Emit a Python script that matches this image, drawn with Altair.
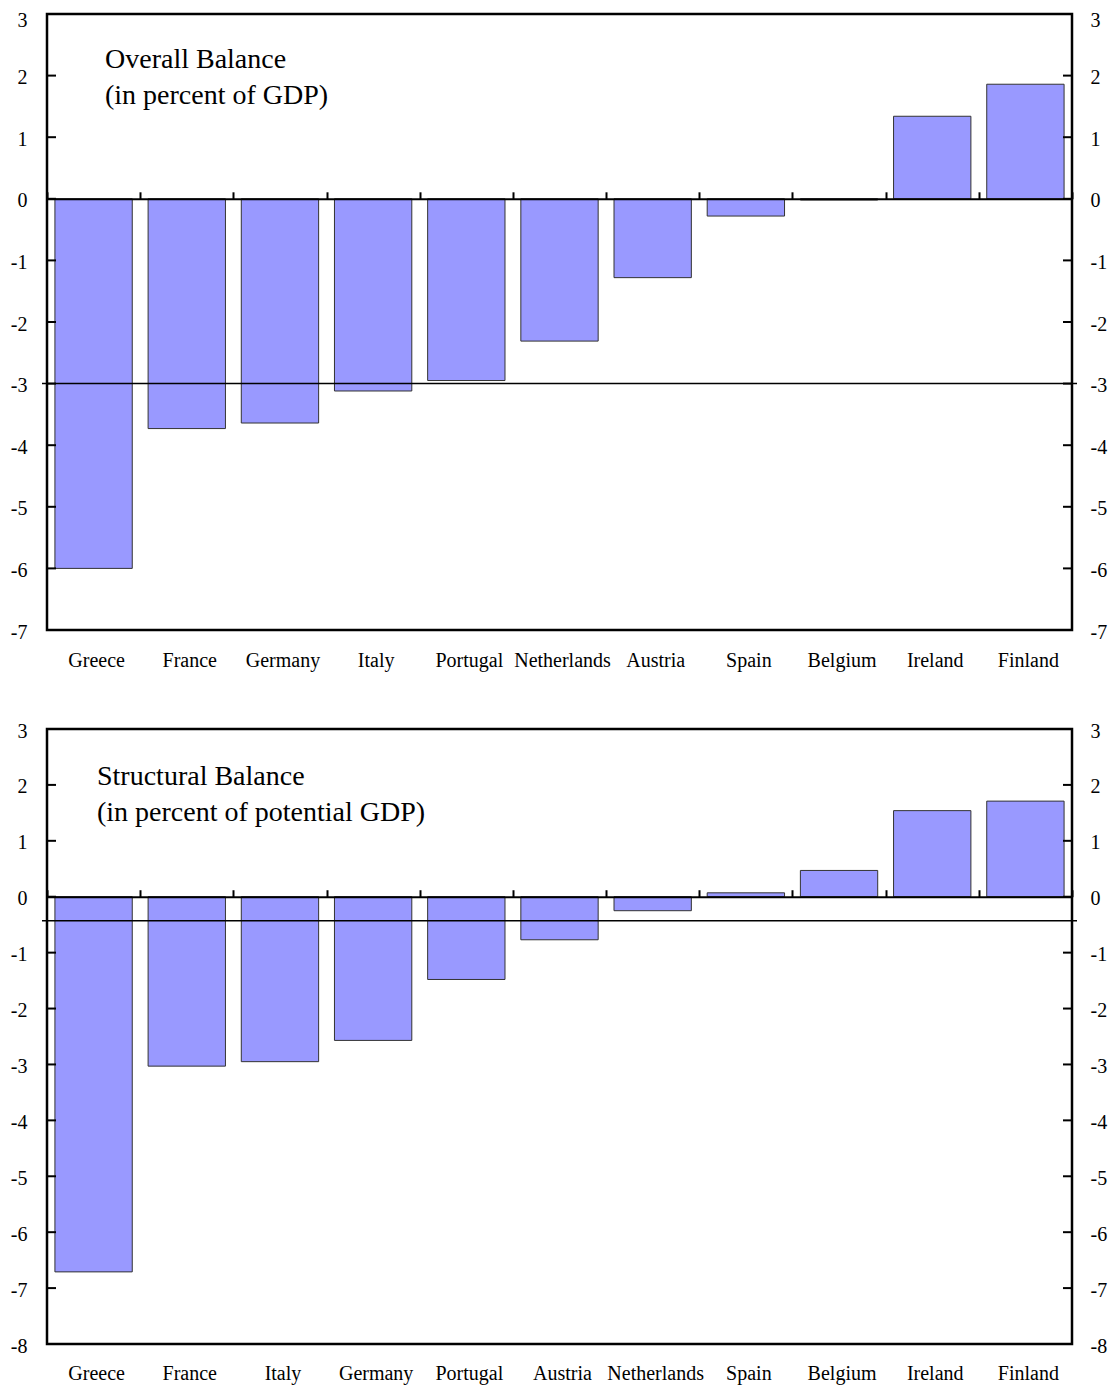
import altair as alt
import pandas as pd

# ---- data ----
top_countries = ["Greece", "France", "Germany", "Italy", "Portugal", "Netherlands",
                 "Austria", "Spain", "Belgium", "Ireland", "Finland"]
top_values = [-6.0, -3.73, -3.64, -3.12, -2.95, -2.31, -1.28, -0.28, -0.02, 1.34, 1.86]
top_ref = -3.0
top_ticks = [-7, -6, -5, -4, -3, -2, -1, 0, 1, 2, 3]
top_title = ["Overall Balance", "(in percent of GDP)"]

bottom_countries = ["Greece", "France", "Italy", "Germany", "Portugal", "Austria",
                    "Netherlands", "Spain", "Belgium", "Ireland", "Finland"]
bottom_values = [-6.71, -3.03, -2.95, -2.57, -1.48, -0.77, -0.25, 0.07, 0.47, 1.54, 1.71]
bottom_ref = -0.43
bottom_ticks = [-8, -7, -6, -5, -4, -3, -2, -1, 0, 1, 2, 3]
bottom_title = ["Structural Balance", "(in percent of potential GDP)"]

FONT = "Liberation Serif"
W = 1025


def panel(countries, values, ref, ticks, title_lines, title_x, title_y, H, xpad, top_off):
    ymin, ymax = min(ticks), max(ticks)
    df = pd.DataFrame({"country": countries, "value": values})
    yscale = alt.Scale(domain=[ymin, ymax], nice=False, zero=False)
    xscale = alt.Scale(paddingInner=0, paddingOuter=0)
    zero_px = H * ymax / (ymax - ymin)
    base = alt.Chart(df)
    ylab_off = {"condition": {"test": f"datum.value === {ymax}", "value": top_off}, "value": 2}

    bars = base.mark_bar(
        width=alt.RelativeBandSize(0.83), fill="#9999FF", stroke="#333333", strokeWidth=1
    ).encode(
        x=alt.X("country:N", sort=countries, scale=xscale,
                axis=alt.Axis(orient="bottom", title=None, labelAngle=0, domain=False,
                              ticks=False, tickSize=0, labelPadding=xpad, labelOffset=3,
                              labelFont=FONT, labelFontSize=20, labelColor="black")),
        y=alt.Y("value:Q", scale=yscale,
                axis=alt.Axis(orient="left", title=None, values=ticks, domain=False,
                              ticks=False, tickSize=0, grid=False, labelPadding=20,
                              labelOffset=ylab_off, labelFont=FONT, labelFontSize=20,
                              labelColor="black", labelExpr="toString(datum.value)")),
    )

    ghost = base.mark_bar(width=alt.RelativeBandSize(0.83), opacity=0).encode(
        x=alt.X("country:N", sort=countries, scale=xscale,
                axis=alt.Axis(orient="top", offset=-zero_px, title=None, labels=False,
                              tickBand="extent", tickSize=7, tickWidth=2, tickColor="black",
                              domainColor="black", domainWidth=2, grid=False, zindex=1)),
        y=alt.Y("value:Q", scale=yscale,
                axis=alt.Axis(orient="right", title=None, values=ticks, domain=False,
                              ticks=False, tickSize=0, grid=False, labelPadding=18,
                              labelOffset=ylab_off, labelFont=FONT, labelFontSize=20,
                              labelColor="black", labelExpr="toString(datum.value)")),
    )

    ref_rule = alt.Chart(pd.DataFrame({"ref": [ref]})).mark_rule(
        color="black", strokeWidth=1.5
    ).encode(
        y=alt.Y("ref:Q", scale=yscale, axis=None),
        x=alt.value(-5), x2=alt.value(W + 5),
    )

    tick_df = pd.DataFrame({"tick": ticks})
    left_ticks = alt.Chart(tick_df).mark_rule(color="black", strokeWidth=2).encode(
        y=alt.Y("tick:Q", scale=yscale, axis=None),
        x=alt.value(0), x2=alt.value(9),
    )
    right_ticks = alt.Chart(tick_df).mark_rule(color="black", strokeWidth=2).encode(
        y=alt.Y("tick:Q", scale=yscale, axis=None),
        x=alt.value(W - 9), x2=alt.value(W),
    )

    title = alt.Chart(alt.Data(values=[{}])).mark_text(
        text=title_lines, align="left", baseline="alphabetic", font=FONT,
        fontSize=28, lineHeight=36, color="black"
    ).encode(x=alt.value(title_x), y=alt.value(title_y))

    return alt.layer(bars, ghost, ref_rule, left_ticks, right_ticks, title).resolve_axis(
        x="independent", y="independent"
    ).properties(width=W, height=H)


top = panel(top_countries, top_values, top_ref, top_ticks, top_title, 58, 54, 616, 20, 6)
bottom = panel(bottom_countries, bottom_values, bottom_ref, bottom_ticks, bottom_title,
               50, 56, 615, 19, 2)

chart = alt.vconcat(top, bottom, spacing=99, bounds="flush").properties(
    padding={"left": 1, "top": 0, "right": 0, "bottom": 0}
).configure_view(stroke="black", strokeWidth=2.5)

chart.save("out.html", embed_options={"renderer": "svg", "actions": False})
